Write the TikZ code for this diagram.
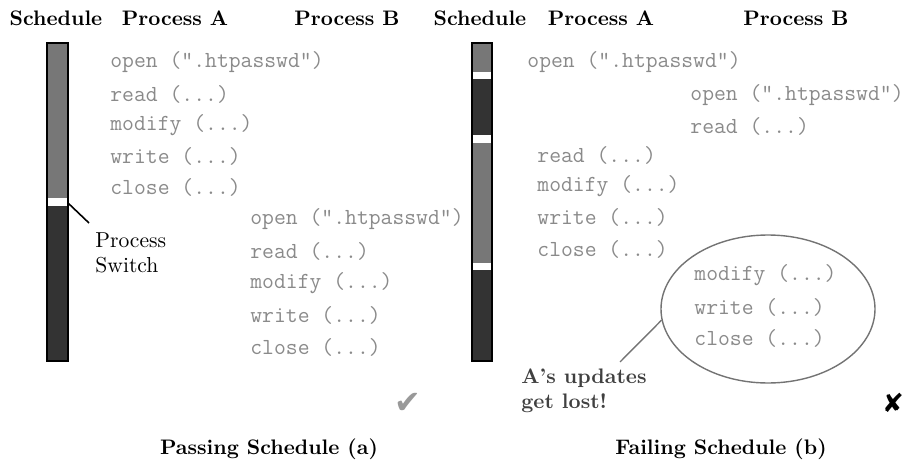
\documentclass[tikz,border=0pt]{standalone}
\usepackage{fontspec}
\usetikzlibrary{shapes.geometric}
\newfontfamily\dingfont{DejaVu Sans}
\definecolor{slotgray}{HTML}{777777}
\definecolor{slotdark}{HTML}{333333}
\definecolor{codegray}{HTML}{8A8A8A}

\begin{document}
\begin{tikzpicture}[x=0.5pt,y=-0.5pt,
        hdr/.style={font=\fontsize{10.5}{12.5}\selectfont\bfseries,anchor=base,inner sep=0pt},
        code/.style={font=\fontsize{11.5}{13}\selectfont\ttfamily,text=codegray,anchor=west,inner sep=0pt},
        note/.style={font=\fontsize{10.8}{12.5}\selectfont,align=left,anchor=north west,inner sep=0pt},
        frame/.style={draw=black,line width=1.2pt}]
    \useasboundingbox (0,0) rectangle (905,460);

    \node[hdr] (schedA) at (56,26) {Schedule};
    \node[hdr] (procAa) at (175,26) {Process A};
    \node[hdr] (procAb) at (347,26) {Process B};
    \node[hdr] (schedB) at (480,26) {Schedule};
    \node[hdr] (procBa) at (601,26) {Process A};
    \node[hdr] (procBb) at (796,26) {Process B};

    % passing schedule: A runs to the end, then B
    \fill[slotgray] (47,43) rectangle (68,198);
    \fill[white] (47,198) rectangle (68,206);
    \fill[slotdark] (47,206) rectangle (68,361);
    \draw[frame] (47,43) rectangle (68,361);

    \node[code] (aopen) at (110,62) {open (“.htpasswd”)};
    \node[code] (aread) at (110,94) {read (...)};
    \node[code] (amodify) at (110,125) {modify (...)};
    \node[code] (awrite) at (110,156) {write (...)};
    \node[code] (aclose) at (110,187) {close (...)};
    \node[code] (bopen) at (250,219) {open (“.htpasswd”)};
    \node[code] (bread) at (250,251) {read (...)};
    \node[code] (bmodify) at (250,283) {modify (...)};
    \node[code] (bwrite) at (250,315) {write (...)};
    \node[code] (bclose) at (250,347) {close (...)};

    \coordinate (swStart) at (68,203);
    \coordinate (swEnd) at (89,223);
    \node[note] (psw) at (95,232) {Process\\Switch};
    \draw[line width=0.8pt] (swStart) -- (swEnd);

    \node[text=black!40,font=\dingfont\fontsize{16}{16}\selectfont] (pass) at (408,403) {✔};
    \node[hdr] (capA) at (269,454) {Passing Schedule (a)};

    % failing schedule: A and B interleaved
    \fill[slotgray] (472,43) rectangle (492,72);
    \fill[white] (472,72) rectangle (492,79);
    \fill[slotdark] (472,79) rectangle (492,135);
    \fill[white] (472,135) rectangle (492,143);
    \fill[slotgray] (472,143) rectangle (492,263);
    \fill[white] (472,263) rectangle (492,270);
    \fill[slotdark] (472,270) rectangle (492,361);
    \draw[frame] (472,43) rectangle (492,361);

    \node[code] (Aopen) at (527,62) {open (“.htpasswd”)};
    \node[code] (Bopen) at (690,95) {open (“.htpasswd”)};
    \node[code] (Bread) at (690,126) {read (...)};
    \node[code] (Aread) at (537,155) {read (...)};
    \node[code] (Amodify) at (537,186) {modify (...)};
    \node[code] (Awrite) at (537,217) {write (...)};
    \node[code] (Aclose) at (537,249) {close (...)};

    \node[ellipse,draw=black!55,line width=0.7pt,minimum width=107pt,minimum height=74pt] (lost) at (768,309) {};
    \node[code] (Bmodify) at (694,275) {modify (...)};
    \node[code] (Bwrite) at (694,307) {write (...)};
    \node[code] (Bclose) at (694,338) {close (...)};

    \coordinate (lostEnd) at (620,362);
    \node[note,font=\fontsize{10.5}{12.5}\selectfont\bfseries,text=black!75] (upd) at (521,368) {A’s updates\\get lost!};
    \draw[black!55,line width=0.7pt] (lost.186) -- (lostEnd);

    \node[font=\dingfont\fontsize{13}{13}\selectfont] (fail) at (893,403) {✘};
    \node[hdr] (capB) at (721,454) {Failing Schedule (b)};
\end{tikzpicture}
\end{document}
